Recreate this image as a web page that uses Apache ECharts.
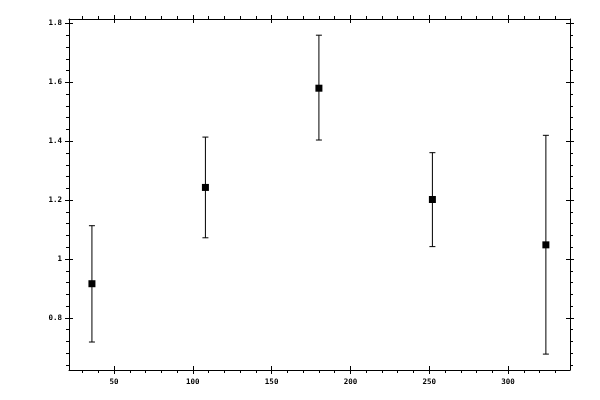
<!DOCTYPE html>
<html>
<head>
<meta charset="utf-8">
<script src="https://cdn.jsdelivr.net/npm/echarts@6/dist/echarts.min.js"></script>
<style>html,body{margin:0;padding:0;background:#fff;}#c{width:600px;height:400px;}</style>
</head>
<body>
<div id="c"></div>
<script>
var xValues = [36, 108, 180, 252, 324];
var yValues = [0.916, 1.243, 1.58, 1.202, 1.048];
var yLow = [0.718, 1.072, 1.404, 1.042, 0.677];
var yHigh = [1.113, 1.414, 1.760, 1.361, 1.420];

var xMajorTicks = [50, 100, 150, 200, 250, 300];
var xMinorTicks = [30, 40, 60, 70, 80, 90, 110, 120, 130, 140, 160, 170, 180, 190, 210, 220, 230, 240, 260, 270, 280, 290, 310, 320, 330];
var yMajorTicks = [0.8, 1.0, 1.2, 1.4, 1.6, 1.8];
var yMinorTicks = [0.64, 0.68, 0.72, 0.76, 0.84, 0.88, 0.92, 0.96, 1.04, 1.08, 1.12, 1.16, 1.24, 1.28, 1.32, 1.36, 1.44, 1.48, 1.52, 1.56, 1.64, 1.68, 1.72, 1.76];

var X_MIN = 21.45, X_MAX = 339.3, Y_MIN = 0.623, Y_MAX = 1.815;

var data = xValues.map(function (x, i) { return [x, yValues[i], yLow[i], yHigh[i]]; });

var lineStyle = { color: '#000', width: 1 };
var font = { fontFamily: 'DejaVu Sans Mono', fontSize: 7.5, fontWeight: 'bold', color: '#000' };

function makeAxis(kind, pos, ticks, inside, len, showLabel, showLine) {
  var ax = {
    type: 'value', position: pos, min: kind === 'x' ? X_MIN : Y_MIN, max: kind === 'x' ? X_MAX : Y_MAX,
    axisLine: { show: showLine, lineStyle: lineStyle },
    axisTick: { show: true, inside: inside, length: len, customValues: ticks, lineStyle: lineStyle },
    axisLabel: showLabel ? Object.assign({ show: true, customValues: ticks, margin: kind === 'x' ? 8 : 7,
      formatter: function (v) { return String(Math.round(v * 100) / 100); } }, font) : { show: false },
    splitLine: { show: false }
  };
  return ax;
}

var xAxes = [
  makeAxis('x', 'bottom', xMajorTicks, false, 4, true, true),
  makeAxis('x', 'bottom', xMajorTicks, true, 4, false, false),
  makeAxis('x', 'bottom', xMinorTicks, false, 3, false, false),
  makeAxis('x', 'top', xMajorTicks, false, 4, false, true),
  makeAxis('x', 'top', xMajorTicks, true, 4, false, false),
  makeAxis('x', 'top', xMinorTicks, false, 3, false, false)
];
var yAxes = [
  makeAxis('y', 'left', yMajorTicks, false, 4, true, true),
  makeAxis('y', 'left', yMajorTicks, true, 4, false, false),
  makeAxis('y', 'left', yMinorTicks, false, 3, false, false),
  makeAxis('y', 'right', yMajorTicks, false, 4, false, true),
  makeAxis('y', 'right', yMajorTicks, true, 4, false, false),
  makeAxis('y', 'right', yMinorTicks, false, 3, false, false)
];

var chart = echarts.init(document.getElementById('c'), null, { renderer: 'canvas' });
chart.setOption({
  animation: false,
  backgroundColor: '#fff',
  grid: { left: 69, right: 30, top: 19, bottom: 30, containLabel: false },
  xAxis: xAxes,
  yAxis: yAxes,
  series: [{
    type: 'custom',
    xAxisIndex: 0, yAxisIndex: 0,
    data: data,
    renderItem: function (params, api) {
      var c = api.coord([api.value(0), api.value(1)]);
      var lo = api.coord([api.value(0), api.value(2)]);
      var hi = api.coord([api.value(0), api.value(3)]);
      var cap = 3, s = 7;
      var st = { stroke: '#000', lineWidth: 1 };
      return {
        type: 'group',
        children: [
          { type: 'line', shape: { x1: c[0], y1: lo[1], x2: c[0], y2: hi[1] }, style: st },
          { type: 'line', shape: { x1: c[0] - cap, y1: lo[1], x2: c[0] + cap, y2: lo[1] }, style: st },
          { type: 'line', shape: { x1: c[0] - cap, y1: hi[1], x2: c[0] + cap, y2: hi[1] }, style: st },
          { type: 'rect', shape: { x: c[0] - s / 2, y: c[1] - s / 2, width: s, height: s }, style: { fill: '#000' } }
        ]
      };
    }
  }]
});
</script>
</body>
</html>
